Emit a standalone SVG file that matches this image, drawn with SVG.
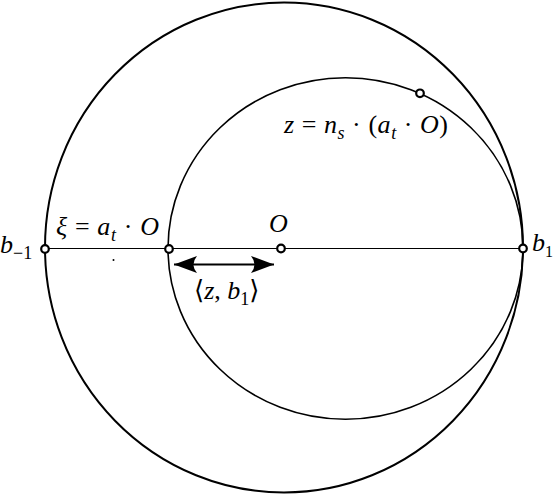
<svg xmlns="http://www.w3.org/2000/svg" width="554" height="495" viewBox="0 0 554 495">
<style>
.curve{fill:none;stroke:#000;stroke-width:2}
.thin{fill:none;stroke:#000;stroke-width:1.2}
.pt{fill:#fff;stroke:#000;stroke-width:2.2}
.lbl{font-family:"Liberation Serif","DejaVu Serif",serif;font-size:26px;fill:#000}
.it{font-style:italic}
.sub{font-size:18px}
</style>
<defs>
<marker id="ah" markerUnits="userSpaceOnUse" markerWidth="26" markerHeight="20" viewBox="-24 -10 26 20" refX="0" refY="0" orient="auto-start-reverse">
<path d="M0,0 L-23,-8.5 Q-16,0 -23,8.5 Z" fill="#000"/>
</marker>
</defs>
<g id="outer-circle"><ellipse class="curve" cx="284" cy="247.5" rx="239" ry="245"/></g>
<g id="inner-circle"><ellipse class="thin" cx="345.5" cy="248.5" rx="177.5" ry="170.8" style="stroke-width:1.6"/></g>
<g id="connectors">
<line class="thin" x1="45" y1="248.5" x2="523" y2="248.5"/>
<line x1="174" y1="264.5" x2="274" y2="264.5" stroke="#000" stroke-width="2" marker-start="url(#ah)" marker-end="url(#ah)"/>
</g>
<g id="node-b-1"><circle class="pt" cx="45" cy="249" r="3.8"/>
<text class="lbl" x="0" y="253"><tspan class="it">b</tspan><tspan class="sub" dy="6">−1</tspan></text></g>
<g id="node-xi"><circle class="pt" cx="169" cy="249" r="3.8"/>
<text class="lbl" x="56" y="235" textLength="103"><tspan class="it">ξ</tspan> = <tspan class="it">a</tspan><tspan class="sub it" dy="6">t</tspan><tspan dy="-6"> · </tspan><tspan class="it">O</tspan></text>
<circle cx="113.5" cy="260" r="1" fill="#000"/></g>
<g id="node-O"><circle class="pt" cx="281" cy="248.5" r="3.8"/>
<text class="lbl it" x="269" y="232">O</text></g>
<g id="node-b1"><circle class="pt" cx="523" cy="248.5" r="3.8"/>
<text class="lbl" x="532" y="251"><tspan class="it">b</tspan><tspan class="sub" dy="6" style="font-size:16px">1</tspan></text></g>
<g id="node-z"><circle class="pt" cx="420" cy="93.3" r="3.8"/>
<text class="lbl" x="284" y="133" textLength="164"><tspan class="it">z</tspan> = <tspan class="it">n</tspan><tspan class="sub it" dy="6">s</tspan><tspan dy="-6"> · (</tspan><tspan class="it">a</tspan><tspan class="sub it" dy="6">t</tspan><tspan dy="-6"> · </tspan><tspan class="it">O</tspan>)</text></g>
<g id="label-dist"><text class="lbl" x="194" y="299">⟨<tspan class="it">z</tspan>, <tspan class="it">b</tspan><tspan class="sub" dy="6">1</tspan><tspan dy="-6">⟩</tspan></text></g>
</svg>
